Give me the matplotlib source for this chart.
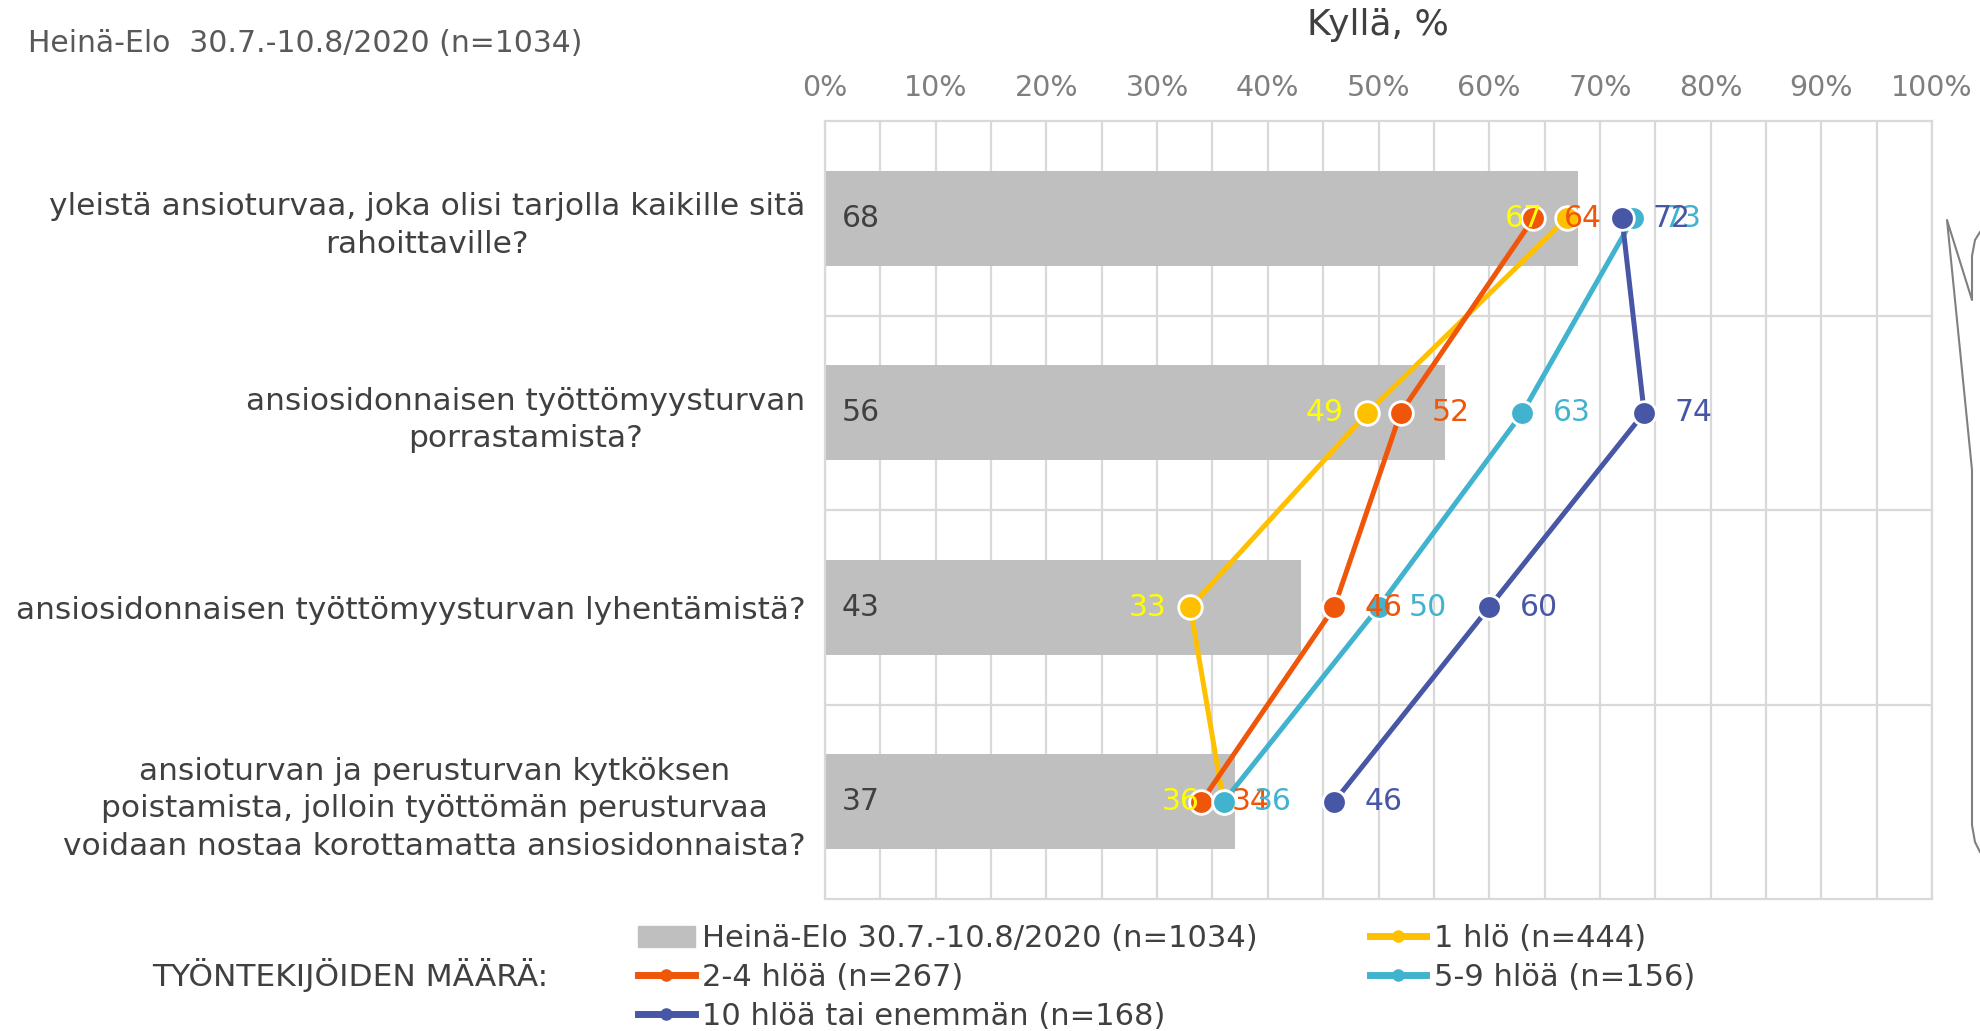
import numpy as np
import matplotlib.pyplot as plt
from matplotlib.lines import Line2D
from matplotlib.patches import Patch

plt.rcParams['font.family'] = ['DejaVu Sans']

kysymykset = [
    "yleistä ansioturvaa, joka olisi tarjolla kaikille sitä\nrahoittaville?",
    "ansiosidonnaisen työttömyysturvan\nporrastamista?",
    "ansiosidonnaisen työttömyysturvan lyhentämistä?",
    "ansioturvan ja perusturvan kytköksen\npoistamista, jolloin työttömän perusturvaa\nvoidaan nostaa korottamatta ansiosidonnaista?",
]
kaikki_nimi = "Heinä-Elo 30.7.-10.8/2020 (n=1034)"
kaikki = [68, 56, 43, 37]

sarja_nimet = ["1 hlö (n=444)", "2-4 hlöä (n=267)", "5-9 hlöä (n=156)",
               "10 hlöä tai enemmän (n=168)"]
yksi = [67, 49, 33, 36]
kaksi_nelja = [64, 52, 46, 34]
viisi_yhdeksan = [73, 63, 50, 36]
kymmenen = [72, 74, 60, 46]
sarjat = [yksi, kaksi_nelja, viisi_yhdeksan, kymmenen]

viivavarit = ['#FFC000', '#F0560A', '#41B3CE', '#4856A6']
tekstivarit = ['#FFFF00', '#F0560A', '#41B3CE', '#4856A6']

x_tikit = np.arange(0, 101, 10)

W, H = 1980, 1031
fig = plt.figure(figsize=(W / 100, H / 100), dpi=100)
ax = fig.add_axes([825 / W, 1 - 899 / H, (1932 - 825) / W, (899 - 121) / H])

y = np.arange(len(kysymykset))

# harmaat palkit (kaikki vastaajat)
ax.barh(y, kaikki, height=0.49, color='#BFBFBF', zorder=2)
for yi, v in zip(y, kaikki):
    ax.annotate(str(v), (0, yi), xytext=(12, 0), textcoords='offset points',
                ha='left', va='center', fontsize=21.5, color='#404040', zorder=3)

# viivat ryhmittäin
for i, (vals, c, tc) in enumerate(zip(sarjat, viivavarit, tekstivarit)):
    ax.plot(vals, y, color=c, lw=3.6, marker='o', ms=17, mec='white', mew=2,
            zorder=4 + i, solid_capstyle='round')
    for yi, v in zip(y, vals):
        if i == 0:
            ax.annotate(str(v), (v, yi), xytext=(-17, 0), textcoords='offset points',
                        ha='right', va='center', fontsize=21.5, color=tc, zorder=10)
        else:
            ax.annotate(str(v), (v, yi), xytext=(22, 0), textcoords='offset points',
                        ha='left', va='center', fontsize=21.5, color=tc, zorder=10)

ax.set_xlim(0, 100)
ax.set_ylim(3.5, -0.5)
ax.xaxis.tick_top()
ax.set_xticks(x_tikit)
ax.set_xticklabels([f"{t}%" for t in x_tikit])
ax.set_xticks(np.arange(0, 101, 5), minor=True)
ax.set_yticks(y)
ax.set_yticklabels(kysymykset)
for t in ax.get_yticklabels():
    t.set_multialignment('center')
    t.set_linespacing(1.36)
ax.set_yticks([0.5, 1.5, 2.5], minor=True)
ax.tick_params(axis='x', which='both', length=0, pad=14, labelsize=20.5, labelcolor='#7F7F7F')
ax.tick_params(axis='y', which='both', length=0, pad=14, labelsize=22.5, labelcolor='#404040')
ax.grid(axis='x', which='both', color='#D9D9D9', lw=1.6)
ax.grid(axis='y', which='minor', color='#D9D9D9', lw=1.6)
ax.set_axisbelow(True)
for s in ax.spines.values():
    s.set_color('#D9D9D9')
    s.set_linewidth(1.6)

fig.text(1378 / W, 1 - 25 / H, "Kyllä, %", ha='center', va='center', fontsize=26, color='#404040')
fig.text(28 / W, 1 - 44 / H, "Heinä-Elo  30.7.-10.8/2020 (n=1034)", ha='left', va='center',
         fontsize=21.5, color='#595959')
fig.text(152 / W, 1 - 975 / H, "TYÖNTEKIJÖIDEN MÄÄRÄ:", ha='left', va='center',
         fontsize=22.5, color='#404040')

# selite
kahvat = [Patch(color='#BFBFBF')] + [
    Line2D([0], [0], color=c, lw=5, marker='o', ms=8, mec=c) for c in viivavarit]
nimet = [kaikki_nimi] + sarja_nimet
jarj = [0, 2, 4, 1, 3]
fig.legend([kahvat[j] for j in jarj], [nimet[j] for j in jarj], ncol=2,
           loc='upper left', bbox_to_anchor=(638 / W, 1 - 924 / H), frameon=False,
           fontsize=22, handlelength=1.85, handletextpad=0.26, columnspacing=3.65,
           labelspacing=0.33, borderpad=0, borderaxespad=0, labelcolor='#404040')

# reunan koristeviiva
kx = np.array([1980, 1975, 1972, 1972, 1947, 1972, 1972, 1975, 1980])
ky = np.array([232, 240, 256, 300, 220, 470, 825, 842, 852])
fig.add_artist(Line2D(kx / W, 1 - ky / H, transform=fig.transFigure, color='#808080', lw=1.5))

fig.savefig('out.png', dpi=100)
